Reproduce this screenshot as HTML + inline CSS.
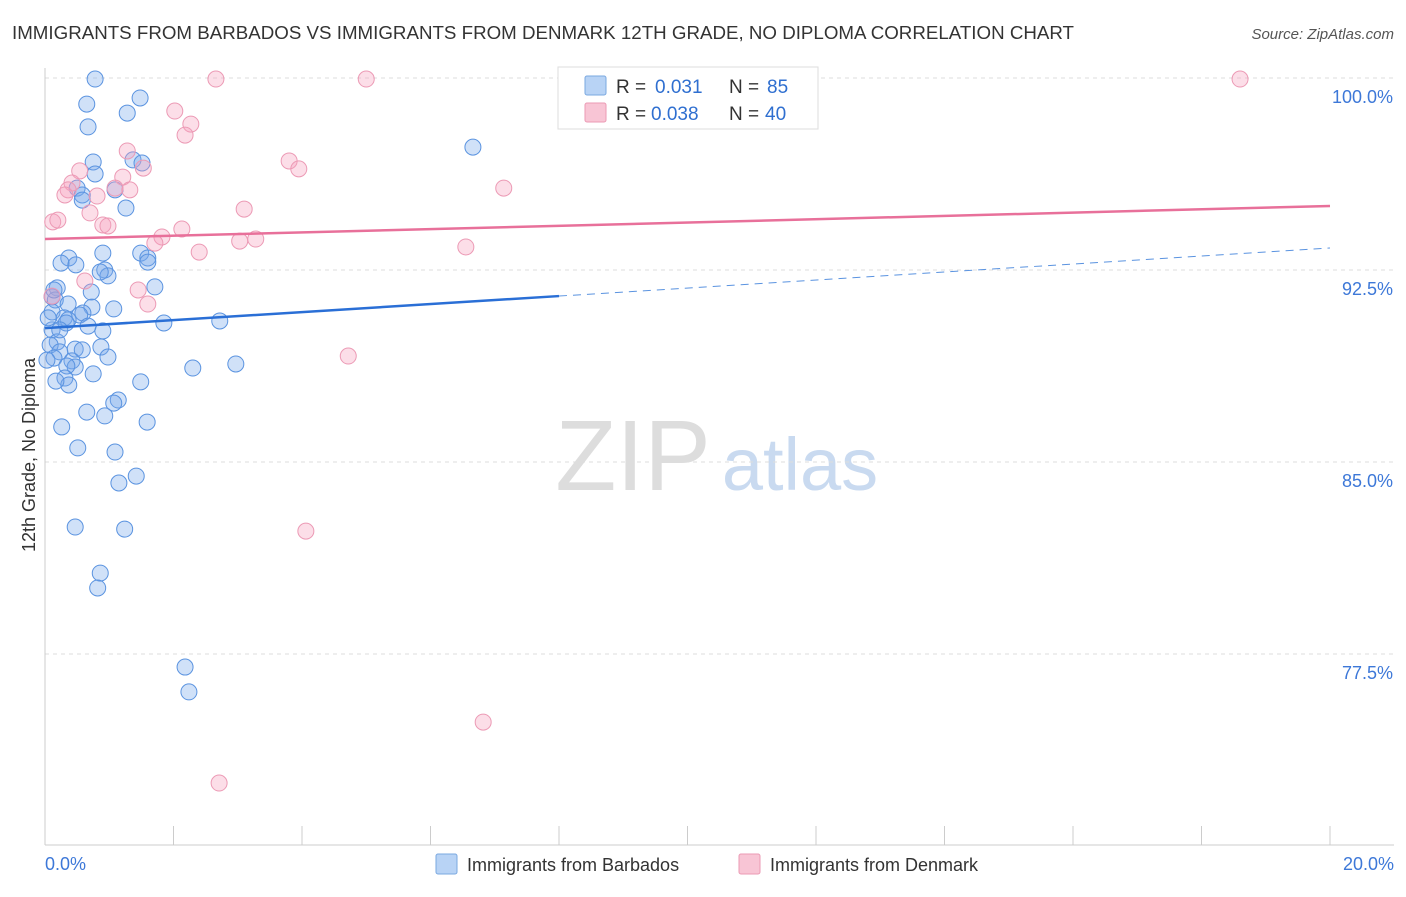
<!DOCTYPE html>
<html><head><meta charset="utf-8"><style>
body{margin:0;background:#fff;font-family:"Liberation Sans",sans-serif;}
svg text{font-family:"Liberation Sans",sans-serif;}
</style></head><body>
<svg id="chart" width="1406" height="892" xmlns="http://www.w3.org/2000/svg">
<text x="12" y="39" font-size="18" fill="#333" textLength="1062" lengthAdjust="spacingAndGlyphs">IMMIGRANTS FROM BARBADOS VS IMMIGRANTS FROM DENMARK 12TH GRADE, NO DIPLOMA CORRELATION CHART</text>
<text x="1394" y="39" font-size="15" fill="#555" font-style="italic" text-anchor="end">Source: ZipAtlas.com</text>
<text x="35" y="455" font-size="18" fill="#333" text-anchor="middle" transform="rotate(-90 35 455)">12th Grade, No Diploma</text>
<g><text x="633" y="490" font-size="100" fill="#ddd" font-family="Liberation Serif" text-anchor="middle">ZIP</text><text x="800" y="490" font-size="74" fill="#c9daf0" text-anchor="middle">atlas</text></g>
<g id="grid"></g><g id="axes"></g><g id="pts"></g><g id="trend"></g>
<g>
<rect x="558" y="67" width="260" height="62" fill="#fff" stroke="#ddd"/>
<rect x="585" y="76" width="21" height="19" fill="#b8d3f5" stroke="#7aa8e0" rx="2"/>
<text x="616" y="93" font-size="19" fill="#333">R =</text>
<text x="655" y="93" font-size="19" fill="#2f6fd0">0.031</text>
<text x="729" y="93" font-size="19" fill="#333">N =</text>
<text x="767" y="93" font-size="19" fill="#2f6fd0">85</text>
<rect x="585" y="103" width="21" height="19" fill="#f8c5d5" stroke="#eb9ab4" rx="2"/>
<text x="616" y="120" font-size="19" fill="#333">R =</text>
<text x="651" y="120" font-size="19" fill="#2f6fd0">0.038</text>
<text x="729" y="120" font-size="19" fill="#333">N =</text>
<text x="765" y="120" font-size="19" fill="#2f6fd0">40</text>
</g>
<g>
<rect x="436" y="854" width="21" height="20" fill="#b8d3f5" stroke="#7aa8e0" rx="2"/>
<text x="467" y="871" font-size="18" fill="#333">Immigrants from Barbados</text>
<rect x="739" y="854" width="21" height="20" fill="#f8c5d5" stroke="#eb9ab4" rx="2"/>
<text x="770" y="871" font-size="18" fill="#333">Immigrants from Denmark</text>
</g>
</svg>
<script>
const blueX=[0.78,0.65,0.67,1.28,1.48,0.75,0.78,1.37,1.51,1.09,0.50,0.58,0.58,1.26,6.66,0.90,1.49,1.60,1.60,0.37,0.25,0.48,0.93,0.98,0.86,1.71,0.19,0.72,0.11,0.16,0.36,0.73,1.07,0.11,0.59,0.54,0.30,0.36,0.33,2.72,1.85,0.11,0.90,0.19,0.08,0.47,0.58,0.87,0.98,0.23,0.14,0.42,0.47,0.34,0.75,0.31,0.37,0.17,1.49,2.30,2.97,1.14,1.07,0.65,0.93,1.59,0.26,0.51,1.09,1.42,1.15,0.47,1.24,0.86,0.82,2.18,2.24,0.23,0.05,0.67,0.03,0.14];
const blueY=[99.96,98.98,98.09,98.63,99.22,96.72,96.25,96.80,96.68,95.63,95.70,95.43,95.23,94.92,97.30,93.16,93.16,92.97,92.81,92.97,92.77,92.70,92.50,92.27,92.42,91.84,91.80,91.64,91.45,91.33,91.17,91.05,90.98,90.86,90.82,90.74,90.63,90.55,90.43,90.51,90.43,90.16,90.12,89.69,89.57,89.41,89.38,89.49,89.10,89.30,89.06,88.95,88.71,88.75,88.44,88.28,88.01,88.16,88.13,88.67,88.83,87.42,87.30,86.95,86.80,86.56,86.37,85.55,85.39,84.45,84.18,82.46,82.38,80.66,80.08,76.99,76.02,90.16,90.63,90.31,88.98,91.72];
const pinkX=[2.66,5.00,18.60,2.02,2.27,2.18,1.28,1.53,0.54,3.80,3.95,1.21,0.42,0.36,1.09,1.32,0.81,7.14,0.70,3.10,0.12,0.20,0.90,0.98,2.13,1.82,1.71,3.03,3.28,6.55,2.40,0.62,1.45,1.60,4.72,4.06,6.82,2.71,0.31,0.11];
const pinkY=[99.96,99.96,99.96,98.71,98.20,97.77,97.15,96.48,96.37,96.76,96.45,96.13,95.90,95.63,95.70,95.63,95.39,95.70,94.73,94.88,94.38,94.45,94.26,94.22,94.10,93.79,93.55,93.63,93.71,93.40,93.20,92.07,91.72,91.17,89.14,82.30,74.84,72.46,95.43,91.48];
const yTicks=[100,92.5,85,77.5];
const yTickLabels=["100.0%","92.5%","85.0%","77.5%"];
const blueTrend=[90.23,93.36]; const blueSolidEnd=8;
const pinkTrend=[93.71,95.0];
const X0=45,X1=1330;
const sx=v=>X0+(v/20)*(X1-X0);
const sy=v=>78+(100-v)*25.6;
const NS="http://www.w3.org/2000/svg";
function mk(tag,attrs,parent){const e=document.createElementNS(NS,tag);for(const k in attrs)e.setAttribute(k,attrs[k]);parent.appendChild(e);return e;}
const grid=document.getElementById('grid'),axes=document.getElementById('axes'),pts=document.getElementById('pts'),tr=document.getElementById('trend');
yTicks.forEach((t,i)=>{
 const l=mk('line',{x1:X0,x2:1394,y1:sy(t),y2:sy(t),stroke:'#ddd','stroke-dasharray':'4,4'},grid);
 
 
 const tx=mk('text',{x:1393,y:sy(t)+25,'font-size':18,fill:'#3d78d8','text-anchor':'end'},axes);
 tx.textContent=yTickLabels[i];
 
 
});
const ax=mk('line',{x1:X0,x2:X0,y1:68,y2:845,stroke:'#ccc'},axes);


const bx=mk('line',{x1:X0,x2:1394,y1:845,y2:845,stroke:'#ccc'},axes);


for(let i=0;i<=10;i++){const t=mk('line',{x1:sx(i*2),x2:sx(i*2),y1:826,y2:845,stroke:'#ccc'},axes);
 
 }
[[0,"0.0%","start",45],[20,"20.0%","end",1394]].forEach(a=>{const t=mk('text',{x:a[3],y:870,'font-size':18,fill:'#3d78d8','text-anchor':a[2]},axes);t.textContent=a[1];
 
 });
blueX.forEach((v,i)=>{const c=mk('circle',{cx:sx(v),cy:sy(blueY[i]),r:8,fill:'rgba(120,170,235,0.35)',stroke:'#5a93e0','stroke-width':1},pts);
 
 });
pinkX.forEach((v,i)=>{const c=mk('circle',{cx:sx(v),cy:sy(pinkY[i]),r:8,fill:'rgba(245,160,190,0.35)',stroke:'#ec9ab5','stroke-width':1},pts);
 
 });
const by=x=>blueTrend[0]+(blueTrend[1]-blueTrend[0])*x/20;
const b1=mk('line',{x1:sx(0),y1:sy(by(0)),x2:sx(blueSolidEnd),y2:sy(by(blueSolidEnd)),stroke:'#2a6fd6','stroke-width':2.5},tr);


const b2=mk('line',{x1:sx(blueSolidEnd),y1:sy(by(blueSolidEnd)),x2:sx(20),y2:sy(by(20)),stroke:'#5a93e0','stroke-width':1,'stroke-dasharray':'8,6'},tr);


const p1=mk('line',{x1:sx(0),y1:sy(pinkTrend[0]),x2:sx(20),y2:sy(pinkTrend[1]),stroke:'#e8709a','stroke-width':2.5},tr);


</script>
</body></html>
